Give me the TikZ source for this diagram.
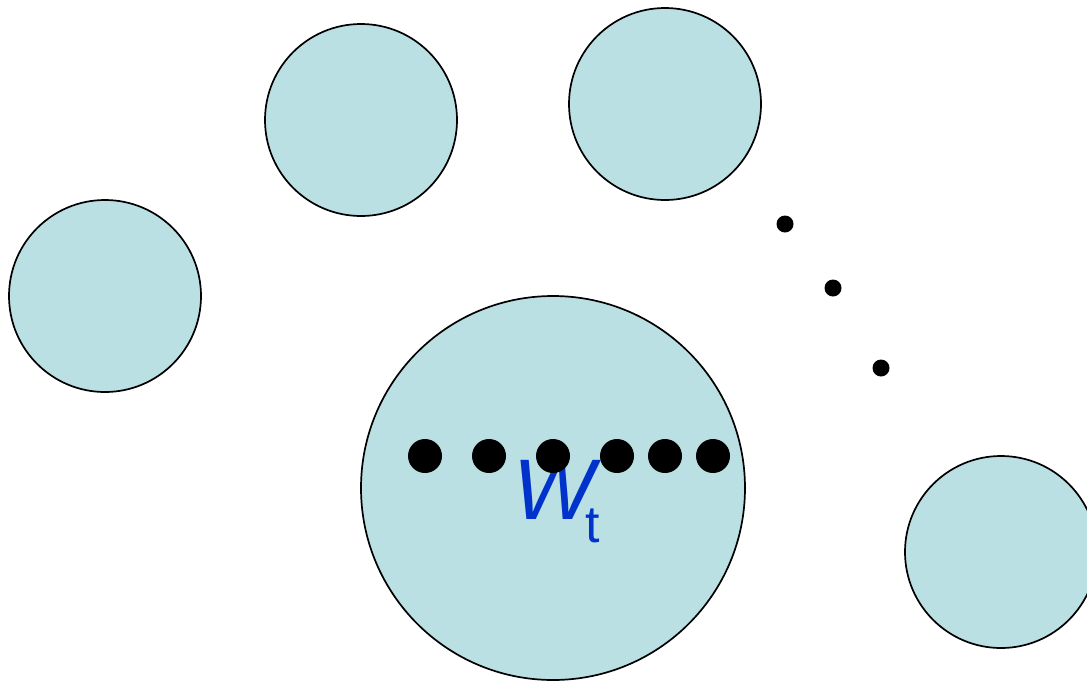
\documentclass[tikz,border=0pt]{standalone}
\usepackage{fontspec}
\setmainfont{Liberation Sans}
\usetikzlibrary{positioning}
\definecolor{cellfill}{RGB}{187,224,227}
\definecolor{labelblue}{RGB}{0,51,204}

\begin{document}
\begin{tikzpicture}[x=1pt, y=-1pt,
  cell/.style={circle, draw=black, line width=1.7pt, fill=cellfill,
               minimum size=192pt, inner sep=0pt},
  bigcell/.style={cell, minimum size=384pt},
  bead/.style={circle, fill=black, inner sep=0pt, minimum size=34pt},
  smalldot/.style={circle, fill=black, inner sep=0pt, minimum size=17pt}
]
\path[use as bounding box] (0,0) rectangle (1087,681);
\clip (0,0) rectangle (1087,681);
% small circles around
\node[cell] (left) at (105,296) {};
\node[cell] (topmid) at (361,120) {};
\node[cell] (topright) at (665,104) {};
\node[cell] (lowright) at (1001,552) {};
% the big one
\node[bigcell] (big) at (553,488) {};
\node[anchor=base west, inner sep=0pt, text=labelblue] (wt) at (513,519)
  {\fontsize{86}{90}\selectfont\itshape W\upshape\kern-9pt\raisebox{-23pt}{\fontsize{52}{52}\selectfont t}};
% row of beads
\foreach \x [count=\i] in {425,489,553,617,665,713}
  \node[bead] (b\i) at (\x,456) {};
% ellipsis between top right and low right
\node[smalldot] (s1) at (785,224) {};
\node[smalldot] (s2) at (833,288) {};
\node[smalldot] (s3) at (881,368) {};
\end{tikzpicture}
\end{document}
